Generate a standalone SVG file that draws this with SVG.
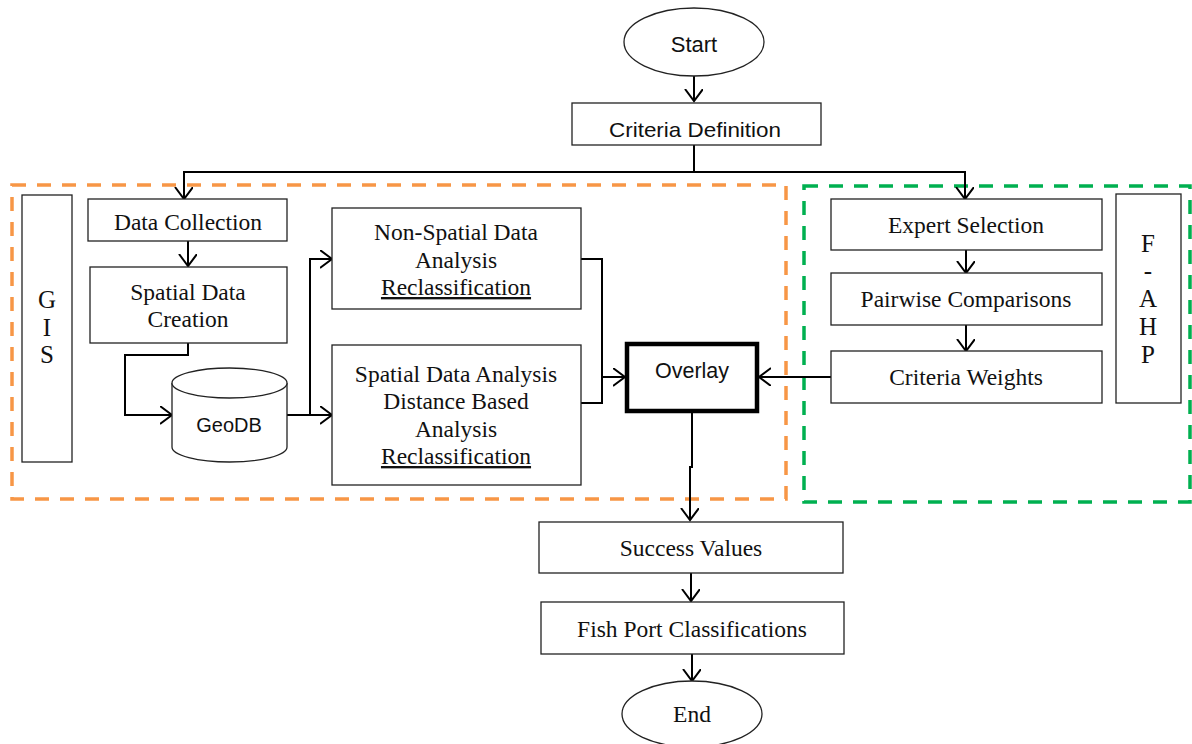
<svg xmlns="http://www.w3.org/2000/svg" width="1192" height="744" viewBox="0 0 1192 744">
<style>
.box{fill:#fff;stroke:#222;stroke-width:1.3}
.serif{font-family:"Liberation Serif","Times New Roman",serif;font-size:23.5px;fill:#111;text-anchor:middle}
.sans{font-family:"Liberation Sans",Arial,sans-serif;font-size:20px;fill:#111;text-anchor:middle}
.big{font-size:25px}
.c{fill:none;stroke:#000;stroke-width:2}
.u{text-decoration:underline}
</style>
<defs>
<marker id="arr" markerUnits="userSpaceOnUse" markerWidth="16" markerHeight="20" refX="12" refY="9" orient="auto" viewBox="0 0 16 20">
<path d="M0,0 L12,9 L0,18" fill="none" stroke="#000" stroke-width="2"/>
</marker>
</defs>
<rect width="1192" height="744" fill="#fff"/>

<g id="gis-region">
<rect x="12" y="185" width="774" height="314" fill="none" stroke="#F79646" stroke-width="3.5" stroke-dasharray="14,11"/>
</g>
<g id="fahp-region">
<rect x="804" y="186" width="386" height="316" fill="none" stroke="#00B050" stroke-width="3.5" stroke-dasharray="14,11"/>
</g>

<g id="connectors">
<path class="c" d="M694,76 V101" marker-end="url(#arr)"/>
<path class="c" d="M694,145 V172 M184,172 H965"/>
<path class="c" d="M184,171 V199" marker-end="url(#arr)"/>
<path class="c" d="M965,171 V199" marker-end="url(#arr)"/>
<path class="c" d="M188,241 V266" marker-end="url(#arr)"/>
<path class="c" d="M188,343 V355 H125 V415 H172" marker-end="url(#arr)"/>
<path class="c" d="M287,415 H310 V259 H332" marker-end="url(#arr)"/>
<path class="c" d="M310,415 H332" marker-end="url(#arr)"/>
<path class="c" d="M577,259 H602 V403 H577"/>
<path class="c" d="M602,377 H625" marker-end="url(#arr)"/>
<path class="c" d="M832,377 H759" marker-end="url(#arr)"/>
<path class="c" d="M692,412 V467 H690 V520" marker-end="url(#arr)"/>
<path class="c" d="M966,250 V273" marker-end="url(#arr)"/>
<path class="c" d="M966,325 V351" marker-end="url(#arr)"/>
<path class="c" d="M691,573 V601" marker-end="url(#arr)"/>
<path class="c" d="M692,654 V681" marker-end="url(#arr)"/>
</g>

<g id="start">
<ellipse cx="694" cy="42" rx="70" ry="34" class="box"/>
<text x="694" y="52" class="sans" style="font-size:22px">Start</text>
</g>
<g id="criteria-definition">
<rect x="572" y="103" width="249" height="42" class="box"/>
<text x="695" y="137" class="sans" style="font-size:21px" textLength="172" lengthAdjust="spacingAndGlyphs">Criteria Definition</text>
</g>

<g id="gis-label">
<rect x="22" y="195" width="50" height="267" class="box"/>
<text x="47" y="308" class="serif big">G</text>
<text x="47" y="336" class="serif big">I</text>
<text x="47" y="363" class="serif big">S</text>
</g>

<g id="data-collection">
<rect x="88" y="199" width="199" height="42" class="box"/>
<text x="188" y="230" class="serif">Data Collection</text>
</g>
<g id="spatial-data-creation">
<rect x="90" y="267" width="197" height="76" class="box"/>
<text x="188" y="300" class="serif">Spatial Data</text>
<text x="188" y="327" class="serif">Creation</text>
</g>
<g id="geodb">
<path d="M172,383 V447 A57.5,15 0 0 0 287,447 V383" class="box"/>
<ellipse cx="229.5" cy="383" rx="57.5" ry="15" class="box"/>
<text x="229" y="432" class="sans" style="font-size:20px">GeoDB</text>
</g>

<g id="non-spatial">
<rect x="332" y="208" width="249" height="101" class="box"/>
<text x="456" y="240" class="serif">Non-Spatial Data</text>
<text x="456" y="268" class="serif">Analysis</text>
<text x="456" y="295" class="serif u">Reclassification</text>
</g>
<g id="spatial-analysis">
<rect x="332" y="345" width="249" height="140" class="box"/>
<text x="456" y="382" class="serif">Spatial Data Analysis</text>
<text x="456" y="409" class="serif">Distance Based</text>
<text x="456" y="437" class="serif">Analysis</text>
<text x="456" y="464" class="serif u">Reclassification</text>
</g>

<g id="overlay">
<rect x="627" y="344" width="130" height="67" fill="#fff" stroke="#000" stroke-width="4.5"/>
<text x="692" y="378" class="sans" style="font-size:21.5px">Overlay</text>
</g>

<g id="expert-selection">
<rect x="831" y="199" width="271" height="51" class="box"/>
<text x="966" y="233" class="serif">Expert Selection</text>
</g>
<g id="pairwise">
<rect x="831" y="273" width="271" height="52" class="box"/>
<text x="966" y="307" class="serif">Pairwise Comparisons</text>
</g>
<g id="criteria-weights">
<rect x="831" y="351" width="271" height="52" class="box"/>
<text x="966" y="385" class="serif">Criteria Weights</text>
</g>
<g id="fahp-label">
<rect x="1116" y="194" width="65" height="209" class="box"/>
<text x="1148" y="252" class="serif big">F</text>
<text x="1148" y="279" class="serif big">-</text>
<text x="1148" y="307" class="serif big">A</text>
<text x="1148" y="335" class="serif big">H</text>
<text x="1148" y="363" class="serif big">P</text>
</g>

<g id="success-values">
<rect x="539" y="522" width="304" height="51" class="box"/>
<text x="691" y="556" class="serif">Success Values</text>
</g>
<g id="fish-port">
<rect x="541" y="602" width="303" height="52" class="box"/>
<text x="692" y="637" class="serif">Fish Port Classifications</text>
</g>
<g id="end">
<ellipse cx="692" cy="714" rx="70" ry="33" class="box"/>
<text x="692" y="722" class="serif">End</text>
</g>
</svg>
